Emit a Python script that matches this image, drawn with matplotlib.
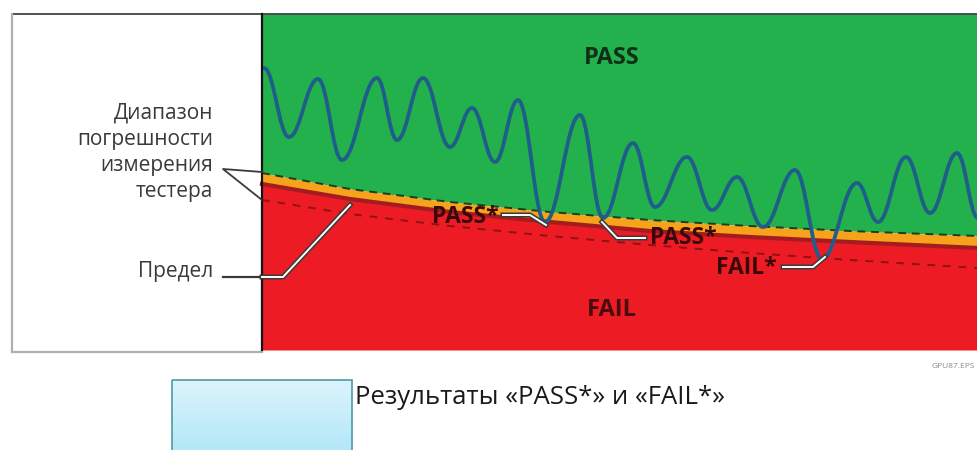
import numpy as np
import matplotlib
matplotlib.use('Agg')
import matplotlib.pyplot as plt
from matplotlib.path import Path
from matplotlib.patches import PathPatch, Rectangle

plt.rcParams['font.family'] = ['Open Sans', 'DejaVu Sans']

# pixel-space readings from the picture (y grows downward)
band_x = [262, 350, 450, 550, 650, 750, 850, 978]
tol_upper = [173, 189, 202, 212, 220, 226, 231, 236]
limit_y = [184, 199, 212, 222, 231, 237, 242, 248]
tol_lower = [200, 214, 226, 236, 245, 253, 260, 268]

# extrema of the measured signal
wave_x = [264, 289, 318, 342, 377, 397, 423, 450, 472, 495, 518, 545, 580, 603,
          633, 655, 687, 712, 737, 763, 795, 822, 857, 878, 906, 930, 957, 978]
wave_y = [68, 137, 79, 160, 78, 140, 78, 147, 108, 162, 100, 222, 115, 218,
          143, 207, 157, 210, 177, 227, 170, 259, 183, 222, 157, 213, 153, 218]

tol_label = ['Диапазон', 'погрешности', 'измерения', 'тестера']
tol_label_y = [113, 140, 166, 192]
legend_text = 'Результаты «PASS*» и «FAIL*»'

GREEN = '#22b14c'
RED = '#ed1c24'
ORANGE = '#f7a21b'
LIMIT = '#a51c20'
WAVE = '#1f5d8a'

fig = plt.figure(figsize=(9.78, 4.5), dpi=100)
ax = fig.add_axes([0, 0, 1, 1])
ax.set_xlim(0, 978)
ax.set_ylim(450, 0)
ax.axis('off')

top, bottom = 14, 350

# regions
ax.fill_between(band_x, top, tol_upper, color=GREEN, lw=0)
ax.fill_between(band_x, tol_upper, limit_y, color=ORANGE, lw=0)
ax.fill_between(band_x, limit_y, bottom, color=RED, lw=0)
ax.plot(band_x, limit_y, color=LIMIT, lw=3)
ax.plot(band_x, tol_upper, color='#1e3d1e', lw=1.4, ls=(0, (4, 3)))
ax.plot(band_x, tol_lower, color='#8e1216', lw=1.4, ls=(0, (4, 4)))

# smooth wave through extrema with flat tangents
verts = [(wave_x[0], wave_y[0])]
codes = [Path.MOVETO]
for i in range(1, len(wave_x)):
    x0, y0 = wave_x[i - 1], wave_y[i - 1]
    x1, y1 = wave_x[i], wave_y[i]
    d = (x1 - x0) * 0.4
    verts += [(x0 + d, y0), (x1 - d, y1), (x1, y1)]
    codes += [Path.CURVE4] * 3
ax.add_patch(PathPatch(Path(verts, codes), fill=False, ec=WAVE, lw=2.7,
                       capstyle='round', zorder=4))

# frame
ax.plot([12, 978], [top, top], color='#333333', lw=1.2, zorder=5)
ax.plot([12, 12], [top, 352], color='#b0b0b0', lw=1.6, zorder=5)
ax.plot([12, 262], [352, 352], color='#b0b0b0', lw=1.6, zorder=5)
ax.plot([262, 262], [top, bottom], color='#111111', lw=1.6, zorder=5)

# zone labels
ax.text(612, 58, 'PASS', ha='center', va='center', fontsize=17,
        fontweight='bold', color='#10301a')
ax.text(612, 310, 'FAIL', ha='center', va='center', fontsize=17,
        fontweight='bold', color='#4a0c0c')


def leader(xs, ys):
    ax.plot(xs, ys, color='#3a3a3a', lw=3.6, solid_joinstyle='miter', zorder=6)
    ax.plot(xs, ys, color='white', lw=1.4, solid_joinstyle='miter', zorder=7)


leader([503, 530, 546], [215, 215, 225])
ax.text(465, 217, 'PASS*', ha='center', va='center', fontsize=16.5,
        fontweight='bold', color='#3a0808', zorder=8)
leader([602, 617, 645], [222, 238, 238])
ax.text(683, 238, 'PASS*', ha='center', va='center', fontsize=16.5,
        fontweight='bold', color='#3a0808', zorder=8)
leader([783, 813, 825], [267, 267, 257])
ax.text(746, 268, 'FAIL*', ha='center', va='center', fontsize=16.5,
        fontweight='bold', color='#3a0808', zorder=8)

# tolerance label on the left
for s, y in zip(tol_label, tol_label_y):
    ax.text(213, y, s, ha='right', va='center', fontsize=15,
            color='#3a3a3a')
ax.plot([262, 223, 262], [172, 169, 200], color='#3a3a3a', lw=1.3, zorder=6)

# limit label
ax.text(213, 271, 'Предел', ha='right', va='center', fontsize=15,
        color='#3a3a3a')
ax.plot([223, 262], [277, 277], color='#3a3a3a', lw=1.6, zorder=6)
leader([262, 283, 350], [277, 277, 205])

ax.text(975, 366, 'GPU87.EPS', ha='right', va='center', fontsize=6,
        color='#8a8a8a')

# legend swatch with soft gradient
grad = np.linspace(0, 1, 64).reshape(-1, 1)
cmap = matplotlib.colors.LinearSegmentedColormap.from_list('lb', ['#dcf4fc', '#b3e7f8'])
ax.imshow(grad, extent=(172, 352, 452, 380), cmap=cmap, aspect='auto', zorder=2)
ax.add_patch(Rectangle((172, 380), 180, 72, fill=False, ec='#4f9aa6', lw=1.2, zorder=3))
ax.set_xlim(0, 978)
ax.set_ylim(450, 0)
ax.text(355, 398, legend_text, ha='left', va='center', fontsize=18.5,
        color='#1a1a1a')

fig.savefig('out.png', dpi=100)
